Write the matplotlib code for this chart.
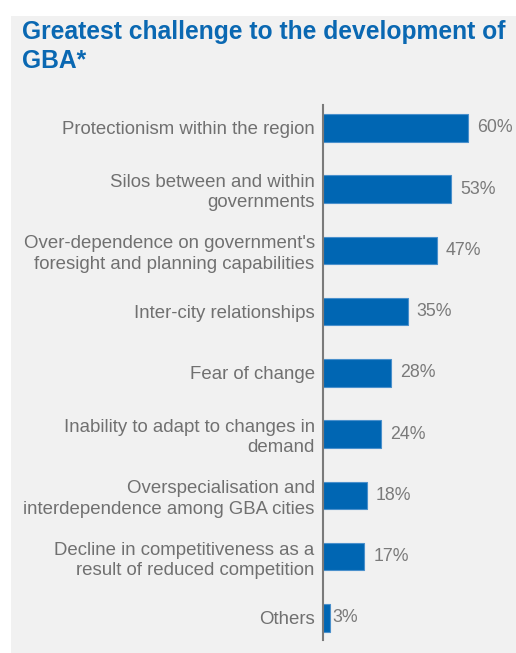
import matplotlib.pyplot as plt
from matplotlib.patches import Rectangle

categories = [
    "Protectionism within the region",
    "Silos between and within\ngovernments",
    "Over-dependence on government's\nforesight and planning capabilities",
    "Inter-city relationships",
    "Fear of change",
    "Inability to adapt to changes in\ndemand",
    "Overspecialisation and\ninterdependence among GBA cities",
    "Decline in competitiveness as a\nresult of reduced competition",
    "Others",
]
values = [60, 53, 47, 35, 28, 24, 18, 17, 3]
value_labels = ["60%", "53%", "47%", "35%", "28%", "24%", "18%", "17%", "3%"]

W, H = 516, 653
fig = plt.figure(figsize=(W / 100, H / 100), dpi=100)
fig.patch.set_facecolor("white")

# grey panel behind everything
fig.patches.append(Rectangle((11 / W, 0), 1 - 11 / W, 1 - 16 / H,
                             transform=fig.transFigure, facecolor="#f1f1f1",
                             edgecolor="none", zorder=-10))

title_kw = dict(family="Liberation Sans", weight="bold", fontsize=17.7,
                color="#0a68b2", ha="left", va="baseline")
fig.text(22 / W, 1 - 39 / H, "Greatest challenge to the development of", **title_kw)
fig.text(22 / W, 1 - 68 / H, "GBA*", **title_kw)

ax = fig.add_axes([323 / W, 1 - 640 / H, 1 - 323 / W, (640 - 105) / H])
ax.set_facecolor("none")

ypos = list(range(len(categories)))
ax.barh(ypos, values, height=0.45, color="#0066b3", edgecolor="#4a90cc",
        linewidth=0.8, zorder=2)

ax.set_xlim(0, 193 / 2.42)
ax.set_ylim(8.36, -0.375)

ax.set_yticks(ypos)
ax.set_yticklabels(categories, family="Liberation Sans", fontsize=13.4,
                   color="#707070", linespacing=1.25)
ax.tick_params(axis="y", length=0, pad=6)
ax.set_xticks([])

for s in ["top", "right", "bottom"]:
    ax.spines[s].set_visible(False)
ax.spines["left"].set_color("#7a7a7a")
ax.spines["left"].set_linewidth(1.5)

for y, v, lab in zip(ypos, values, value_labels):
    off = 6.5 if v > 5 else 1.5
    ax.annotate(lab, (v, y), xytext=(off, 0), textcoords="offset points",
                va="center", ha="left", family="Liberation Sans",
                fontsize=12.8, color="#7a7a7a")

fig.savefig("out.png", dpi=100, facecolor=fig.get_facecolor())
